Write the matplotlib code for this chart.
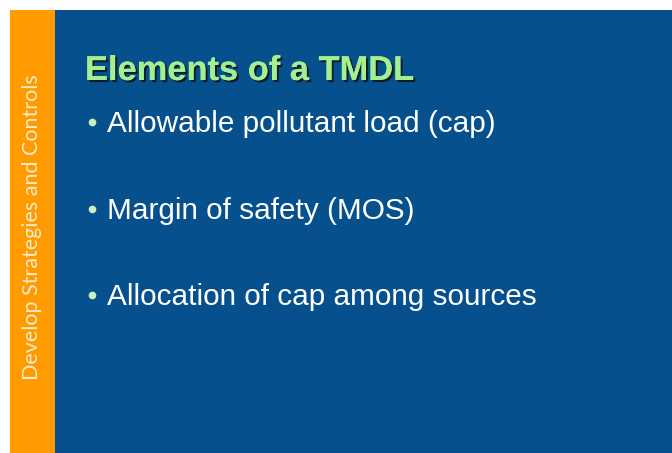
import matplotlib
matplotlib.use("Agg")
import matplotlib.pyplot as plt
from matplotlib.patches import Rectangle
import matplotlib.patheffects as pe

W, H = 672, 453
title = "Elements of a TMDL"
bullets = ["Allowable pollutant load (cap)", "Margin of safety (MOS)", "Allocation of cap among sources"]
bullet_y = [132, 219, 305]
side_label = "Develop Strategies and Controls"

fig = plt.figure(figsize=(W / 100, H / 100), dpi=100)
fig.patch.set_facecolor("white")
ax = fig.add_axes([0, 0, 1, 1])
ax.set_xlim(0, W)
ax.set_ylim(H, 0)
ax.axis("off")

ax.add_patch(Rectangle((10, 10), 45, H - 10, facecolor="#FF9A00", edgecolor="none"))
ax.add_patch(Rectangle((55, 10), W - 55, H - 10, facecolor="#06508E", edgecolor="none"))

ax.text(38, 227.5, side_label, rotation=90, rotation_mode="anchor", ha="center", va="baseline",
        fontsize=15.5, family="Lato", color="#FFEBC8")

ax.text(85, 80, title, ha="left", va="baseline", fontsize=24.8, fontweight="bold",
        family="Liberation Sans", color="#A4F08E",
        path_effects=[pe.withSimplePatchShadow(offset=(1.5, -1.5), shadow_rgbFace="#0A1828", alpha=0.95),
                      pe.Normal()])

for txt, y in zip(bullets, bullet_y):
    ax.plot([92], [y - 10], marker="o", markersize=5.5, color="#C8F0C0", markeredgewidth=0)
    ax.text(107, y, txt, ha="left", va="baseline", fontsize=21.4, family="Liberation Sans",
            color="white")

fig.savefig("out.png", dpi=100, facecolor="white")
